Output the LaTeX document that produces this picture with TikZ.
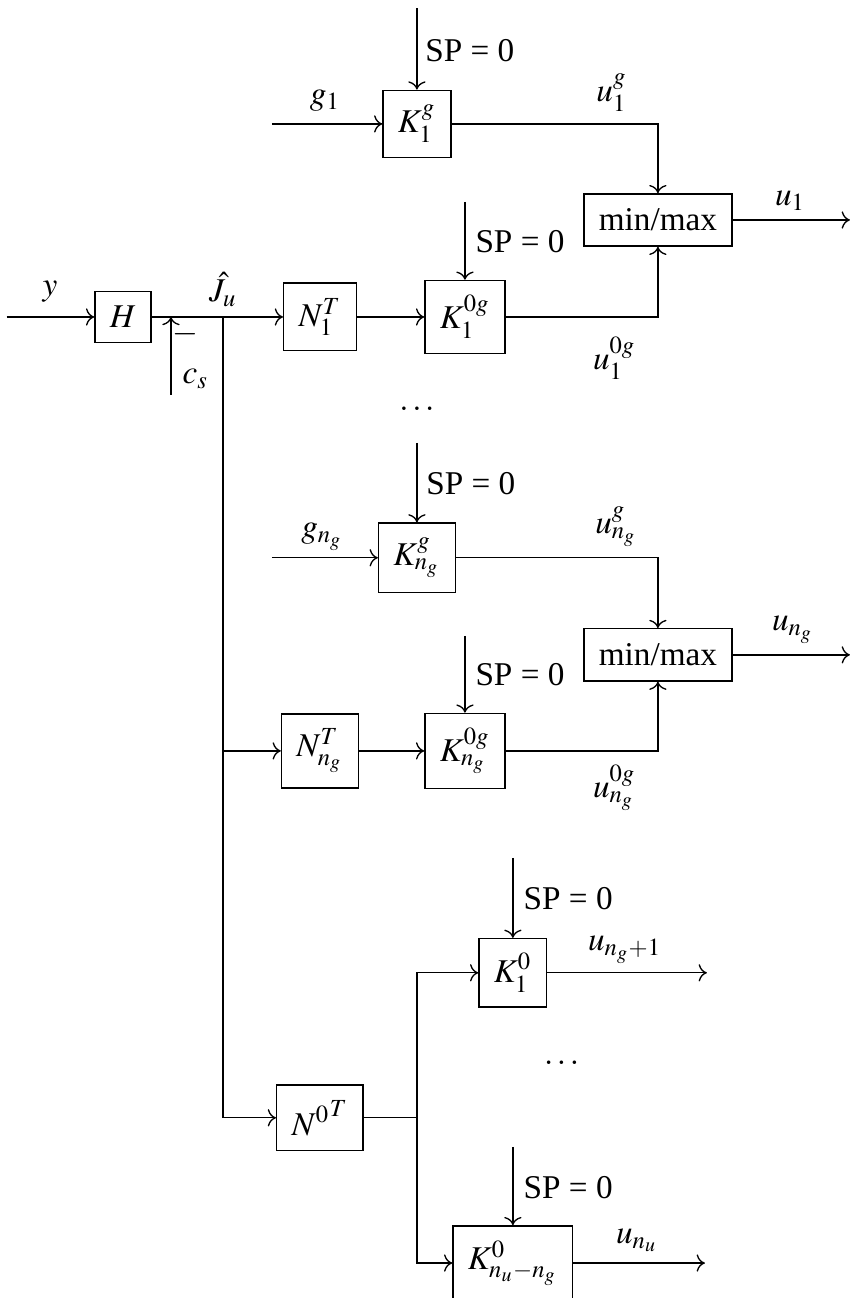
\documentclass[tikz,border=0pt]{standalone}
\usepackage{mathptmx}
\usepackage[no-math]{fontspec}
\setmainfont{Liberation Serif}
\usetikzlibrary{arrows.meta}
\tikzset{
  block/.style={draw, rectangle, inner sep=4.5pt},
  sig/.style={inner sep=1pt},
}

\begin{document}
\begin{tikzpicture}[x=1mm, y=1mm]
  \useasboundingbox (0,0) rectangle (90,-137.3);

  % measurement and combination
  \coordinate (yin) at (0.7,-33.53);
  \node[block] (H) at (13.01,-33.53) {$H$};
  \coordinate (sum) at (18.08,-33.53);
  \coordinate (csin) at (18.08,-41.78);
  \coordinate (jct) at (23.58,-33.53);
  \node[sig] (ylbl) at (5.29,-30.9) {$y$};
  \node[sig] (Jlbl) at (23.6,-30.6) {$\hat{J}_u$};
  \node[sig] (minus) at (19.6,-35.4) {$-$};
  \node[sig] (cslbl) at (20.7,-40.1) {$c_s$};

  % first group
  \node[block] (N1) at (33.84,-33.53) {$N_1^T$};
  \node[block] (K1z) at (49.18,-33.53) {$K_1^{0g}$};
  \node[block] (K1g) at (44.1,-13.11) {$K_1^g$};
  \node[block] (mm1) at (69.59,-23.27) {min/max};
  \coordinate (g1in) at (28.77,-13.11);
  \coordinate (sp1) at (44.1,-0.85);
  \coordinate (sp2) at (49.18,-21.36);
  \coordinate (out1) at (89.9,-23.27);
  \node[sig] (g1lbl) at (34.4,-10.7) {$g_1$};
  \node[sig] (sp1lbl) at (49.7,-5.4) {SP = 0};
  \node[sig] (sp2lbl) at (55.0,-25.6) {SP = 0};
  \node[sig] (u1glbl) at (64.7,-9.8) {$u_1^g$};
  \node[sig] (u1zlbl) at (65.0,-37.9) {$u_1^{0g}$};
  \node[sig] (u1lbl) at (83.6,-21.2) {$u_1$};

  \node[sig] (dots1) at (44.1,-43.2) {$\ldots$};

  % group n_g
  \node[block] (Nng) at (33.84,-79.43) {$N_{n_g}^T$};
  \node[block] (Kngz) at (49.18,-79.43) {$K_{n_g}^{0g}$};
  \node[block] (Kngg) at (44.1,-59.0) {$K_{n_g}^g$};
  \node[block] (mm2) at (69.59,-69.27) {min/max};
  \coordinate (gngin) at (28.77,-59.0);
  \coordinate (sp3) at (44.1,-46.85);
  \coordinate (sp4) at (49.18,-67.26);
  \coordinate (out2) at (89.9,-69.27);
  \node[sig] (gnglbl) at (34.1,-56.8) {$g_{n_g}$};
  \node[sig] (sp3lbl) at (49.8,-51.2) {SP = 0};
  \node[sig] (sp4lbl) at (55.0,-71.4) {SP = 0};
  \node[sig] (ugglbl) at (65.2,-55.7) {$u_{n_g}^g$};
  \node[sig] (uzglbl) at (65.0,-83.3) {$u_{n_g}^{0g}$};
  \node[sig] (unglbl) at (83.9,-66.6) {$u_{n_g}$};

  % remaining inputs
  \node[block] (N0) at (33.84,-118.24) {${N^0}^T$};
  \coordinate (split) at (44.1,-118.24);
  \node[block] (K01) at (54.25,-102.9) {$K_1^0$};
  \node[block] (K0n) at (54.25,-133.6) {$K_{n_u-n_g}^0$};
  \coordinate (sp5) at (54.25,-90.74);
  \coordinate (sp6) at (54.25,-121.3);
  \coordinate (out3) at (74.77,-102.9);
  \coordinate (out4) at (74.56,-133.6);
  \node[sig] (sp5lbl) at (60.1,-95.1) {SP = 0};
  \node[sig] (sp6lbl) at (60.1,-125.6) {SP = 0};
  \node[sig] (un1lbl) at (66.1,-100.5) {$u_{n_g+1}$};
  \node[sig] (unulbl) at (67.4,-131.2) {$u_{n_u}$};
  \node[sig] (dots2) at (59.4,-112.4) {$\ldots$};

  % connections
  \draw[->] (yin) -- (H);
  \draw[->] (H) -- (N1);
  \draw[->] (csin) -- (sum);
  \draw[->] (N1) -- (K1z);
  \draw[->] (g1in) -- (K1g);
  \draw[->] (sp1) -- (K1g);
  \draw[->] (sp2) -- (K1z);
  \draw[->] (K1g) -| (mm1);
  \draw[->] (K1z) -| (mm1);
  \draw[->] (mm1) -- (out1);

  \draw[->] (jct) |- (Nng);
  \draw[->] (jct) |- (N0);
  \draw[->] (Nng) -- (Kngz);
  \draw[->] (gngin) -- (Kngg);
  \draw[->] (sp3) -- (Kngg);
  \draw[->] (sp4) -- (Kngz);
  \draw[->] (Kngg) -| (mm2);
  \draw[->] (Kngz) -| (mm2);
  \draw[->] (mm2) -- (out2);

  \draw (N0) -- (split);
  \draw[->] (split) |- (K01);
  \draw[->] (split) |- (K0n);
  \draw[->] (sp5) -- (K01);
  \draw[->] (sp6) -- (K0n);
  \draw[->] (K01) -- (out3);
  \draw[->] (K0n) -- (out4);
\end{tikzpicture}
\end{document}
